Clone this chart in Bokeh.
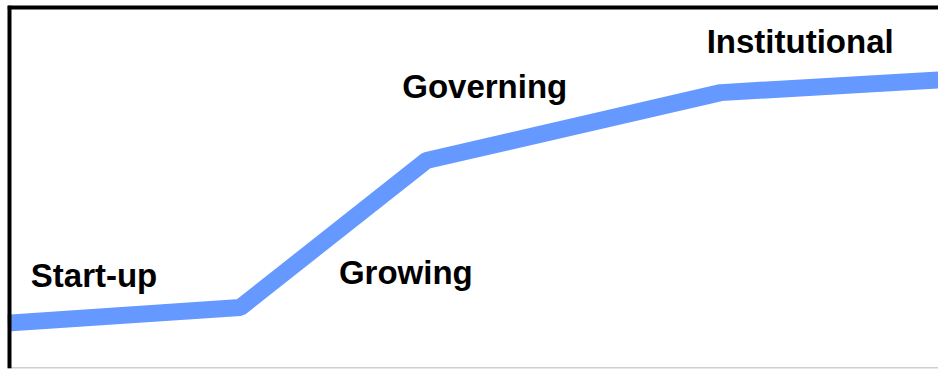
from bokeh.plotting import figure
from bokeh.models import ColumnDataSource, Span, Range1d
from bokeh.core.properties import value
from bokeh.embed import file_html
from bokeh.resources import INLINE

# Growth curve (x: progress 0-100, y: maturity 0-100)
curve_x = [0, 25.0, 45.0, 76.6, 100]
curve_y = [12.5, 16.8, 57.3, 76.0, 79.5]

stages = ["Start-up", "Growing", "Governing", "Institutional"]
label_x = [2.5, 35.6, 42.4, 75.1]
label_y = [25.6, 26.4, 77.7, 90.1]

p = figure(width=938, height=370, output_backend="svg", toolbar_location=None,
           x_range=Range1d(0, 100), y_range=Range1d(0, 100),
           min_border_left=7, min_border_right=0, min_border_top=5, min_border_bottom=2)
p.xaxis.visible = False
p.yaxis.visible = False
p.xgrid.visible = False
p.ygrid.visible = False
p.outline_line_color = None
p.background_fill_color = "white"
p.border_fill_color = "white"

p.line(curve_x, curve_y, line_color="#6699ff", line_width=17)

src = ColumnDataSource(dict(x=label_x, y=label_y, t=stages))
p.text("x", "y", text="t", source=src, text_font=value("Liberation Sans"),
       text_font_style="bold", text_font_size="33px", text_color="black",
       text_align="left", text_baseline="alphabetic")

p.add_layout(Span(location=0, dimension="width", line_color="#d0d0d0", line_width=3))
p.add_layout(Span(location=100, dimension="width", line_color="black", line_width=8))
p.add_layout(Span(location=0, dimension="height", line_color="black", line_width=8))

open("out.html", "w").write(file_html(p, INLINE))
